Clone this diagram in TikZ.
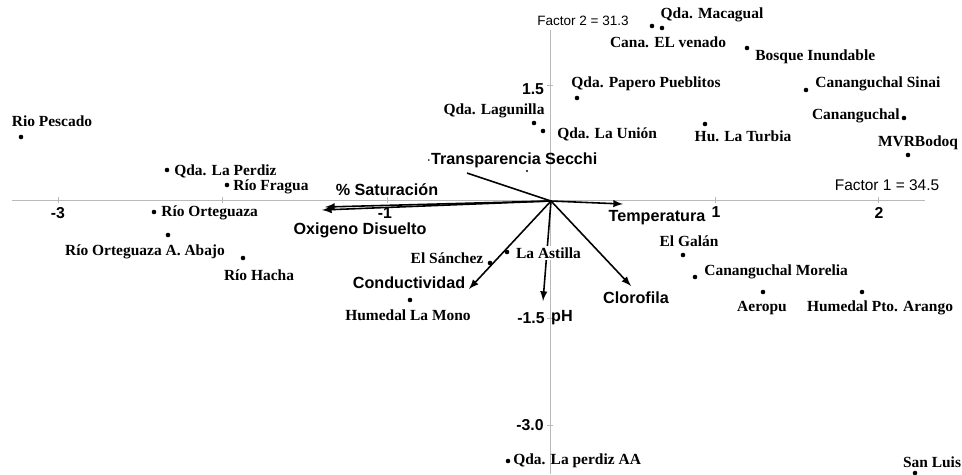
\documentclass[tikz,border=0pt]{standalone}
\usepackage{fontspec}
\setmainfont{Liberation Serif}
\newfontfamily\arialfont{Liberation Sans}
\usetikzlibrary{arrows}
\usetikzlibrary{calc}

\tikzset{
	site/.style={font=\bfseries\fontsize{8.8}{9}\selectfont,inner sep=0pt},
	var/.style={font=\arialfont\bfseries\fontsize{9.2}{10}\selectfont,inner sep=0pt},
	num/.style={font=\arialfont\bfseries\fontsize{9}{10}\selectfont,inner sep=0pt},
	fact/.style={font=\arialfont\fontsize{8.8}{9}\selectfont,inner sep=0pt},
	pt/.style={circle,fill=black,inner sep=0pt,minimum size=2.6pt},
	axe/.style={gray!55,line width=0.5pt},
	fleche/.style={->,>=latex,line width=0.9pt}
}

\begin{document}
\begin{tikzpicture}[x=0.02cm,y=-0.02cm]
				\useasboundingbox (0,0) rectangle (962,474);
				% Axes
				\coordinate (xg) at (12,200);
				\coordinate (xd) at (925,200);
				\coordinate (yh) at (550,30);
				\coordinate (yb) at (550,474);
				\draw [axe] (xg) -- (xd);
				\draw [axe] (yh) -- (yb);
				\foreach \x in {58,222,387,715,878} \draw [axe] (\x,197) -- (\x,203);
				\foreach \y in {85,318,425} \draw [axe] (547,\y) -- (553,\y);
				\node [num] (tm3) at (58,213) {-3};
				\node [num] (tm1) at (385,213) {-1};
				\node [num] (t1) at (716,212) {1};
				\node [num] (t2) at (879,213) {2};
				\node [num] (t15) at (533,89) {1.5};
				\node [num] (tm15) at (531,318) {-1.5};
				\node [num] (tm30) at (530,425) {-3.0};
				\node [fact,font=\arialfont\fontsize{7.7}{8}\selectfont] (f2) at (583,21) {Factor 2 = 31.3};
				\node [fact] (f1) at (887,185) {Factor 1 = 34.5};
				% Flèches
				\coordinate (O) at (551,201);
				\coordinate (tsec) at (467,173);
				\coordinate (sat) at (325,207);
				\coordinate (oxi) at (322,210);
				\coordinate (temp) at (623,204);
				\coordinate (cond) at (469,289);
				\coordinate (ph) at (543,301);
				\coordinate (clor) at (631,286);
				\draw [line width=0.9pt] (O) -- (tsec);
				\draw [fleche] (O) -- (sat);
				\draw [fleche] (O) -- (oxi);
				\draw [fleche] (O) -- (temp);
				\draw [fleche] (O) -- (cond);
				\draw [fleche] (O) -- (ph);
				\draw [fleche] (O) -- (clor);
				\node [var] (ltsec) at (512,160) {$\cdot$Transparencia Secchi};
				\node [pt,minimum size=1.2pt] (ptsec) at (527,171) {};
				\node [var] (lsat) at (387,190) {\% Saturación};
				\node [var] (loxi) at (360,230) {Oxigeno Disuelto};
				\node [var] (ltemp) at (657,218) {Temperatura};
				\node [var] (lcond) at (409,283) {Conductividad};
				\node [var] (lph) at (562,318) {pH};
				\node [var] (lclor) at (636,298) {Clorofila};
				% Stations
				\node [pt] (p1) at (21,137) {};
				\node [site] (l1) at (52,121) {Rio Pescado};
				\node [pt] (p2) at (167,170) {};
				\node [site,anchor=west] (l2) at (174,171) {Qda. La Perdiz};
				\node [pt] (p3) at (227,185) {};
				\node [site,anchor=west] (l3) at (233,187) {Río Fragua};
				\node [pt] (p4) at (154,212) {};
				\node [site,anchor=west] (l4) at (161,213) {Río Orteguaza};
				\node [pt] (p5) at (168,235) {};
				\node [site] (l5) at (145,252) {Río Orteguaza A. Abajo};
				\node [pt] (p6) at (243,258) {};
				\node [site] (l6) at (259,275) {Río Hacha};
				\node [pt] (p7) at (534,123) {};
				\node [site] (l7) at (494,111) {Qda. Lagunilla};
				\node [pt] (p8) at (543,131) {};
				\node [site,anchor=west] (l8) at (557,134) {Qda. La Unión};
				\node [pt] (p9) at (577,98) {};
				\node [site] (l9) at (646,84) {Qda. Papero Pueblitos};
				\node [pt] (p10) at (652,26) {};
				\node [pt] (p11) at (662,28) {};
				\node [site] (l11) at (712,15) {Qda. Macagual};
				\node [site] (l10) at (668,42) {Cana. EL venado};
				\node [pt] (p12) at (747,48) {};
				\node [site,anchor=west] (l12) at (755,57) {Bosque Inundable};
				\node [pt] (p13) at (806,90) {};
				\node [site,anchor=west] (l13) at (815,84) {Cananguchal Sinai};
				\node [pt] (p14) at (904,118) {};
				\node [site,anchor=east] (l14) at (900,116) {Cananguchal};
				\node [pt] (p15) at (908,155) {};
				\node [site] (l15) at (918,143) {MVRBodoq};
				\node [pt] (p16) at (705,124) {};
				\node [site] (l16) at (743,136) {Hu. La Turbia};
				\node [pt] (p17) at (683,255) {};
				\node [site] (l17) at (689,241) {El Galán};
				\node [pt] (p18) at (695,277) {};
				\node [site,anchor=west] (l18) at (704,272) {Cananguchal Morelia};
				\node [pt] (p19) at (763,292) {};
				\node [site] (l19) at (762,308) {Aeropu};
				\node [pt] (p20) at (862,292) {};
				\node [site] (l20) at (880,308) {Humedal Pto. Arango};
				\node [pt] (p21) at (410,300) {};
				\node [site] (l21) at (408,315) {Humedal La Mono};
				\node [pt] (p22) at (490,263) {};
				\node [site] (l22) at (447,258) {El Sánchez};
				\node [pt] (p23) at (507,252) {};
				\node [site,anchor=west,fill=white,inner sep=1pt] (l23) at (514,253) {La Astilla};
				\node [pt] (p24) at (508,461) {};
				\node [site,anchor=west] (l24) at (513,461) {Qda. La perdiz AA};
				\node [pt] (p25) at (915,473) {};
				\node [site] (l25) at (932,462) {San Luis};
				\end{tikzpicture}
\end{document}
